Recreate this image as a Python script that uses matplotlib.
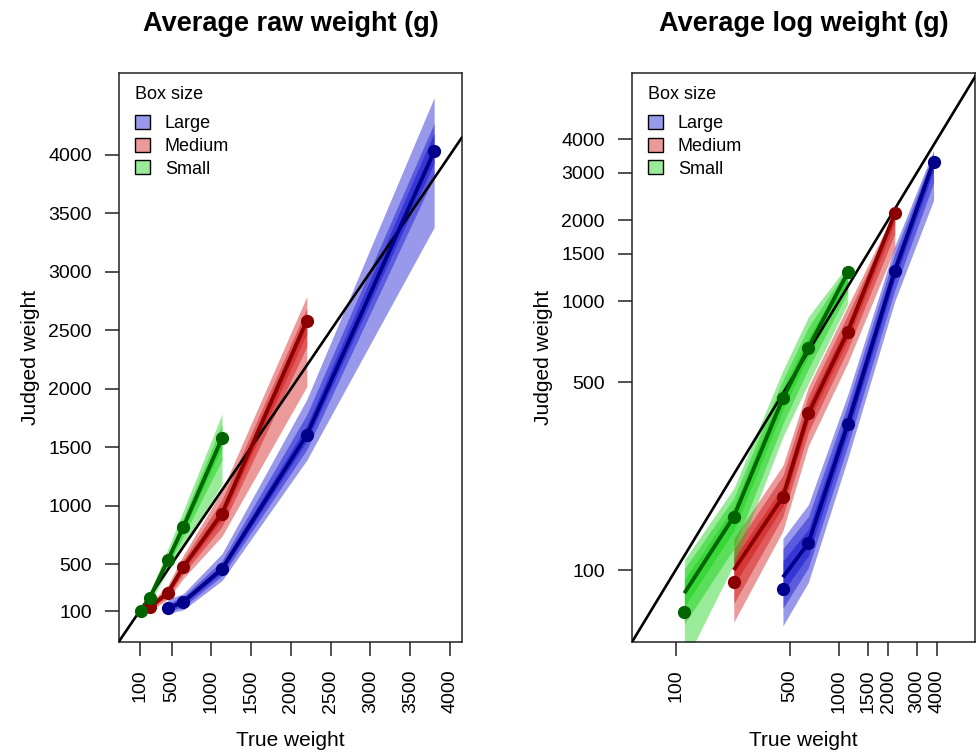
import matplotlib
matplotlib.use("Agg")
import matplotlib.pyplot as plt
from matplotlib.patches import Patch

plt.rcParams['font.family'] = ['Liberation Sans', 'DejaVu Sans']

# ---------------- data ----------------
series_names = ["Large", "Medium", "Small"]

x_large = [454, 650, 1134, 2200, 3800]
x_medium = [227, 454, 650, 1134, 2200]
x_small = [113, 227, 454, 650, 1134]

# Left panel: average raw weight
raw_large_pts = [123, 180, 459, 1606, 4029]
raw_large_lo = [[80, 110, 360, 1390, 3380], [95, 135, 400, 1480, 3815], [108, 155, 430, 1550, 3930]]
raw_large_hi = [[200, 250, 590, 1910, 4490], [165, 225, 530, 1780, 4270], [145, 205, 495, 1690, 4190]]

raw_medium_pts = [132, 257, 479, 933, 2581]
raw_medium_lo = [[100, 200, 380, 740, 2020], [112, 222, 420, 820, 2360], [122, 240, 450, 880, 2470]]
raw_medium_hi = [[165, 320, 580, 1130, 2790], [152, 295, 540, 1050, 2690], [142, 275, 510, 990, 2640]]

raw_small_pts = [100, 214, 536, 821, 1577]
raw_small_lo = [[82, 172, 440, 650, 1185], [90, 190, 485, 740, 1390], [95, 202, 510, 785, 1500]]
raw_small_hi = [[118, 255, 630, 960, 1785], [110, 235, 585, 900, 1700], [106, 225, 560, 860, 1640]]

# Right panel: average log weight
log_large_pts = [85, 126, 349, 1296, 3297]
log_large_line = [94, 126, 349, 1296, 3297]
log_large_lo = [[62, 90, 260, 1000, 2370], [72, 102, 290, 1100, 2750], [83, 113, 320, 1200, 3050]]
log_large_hi = [[131, 175, 450, 1600, 3640], [120, 158, 415, 1500, 3550], [108, 142, 385, 1400, 3450]]

log_medium_pts = [90, 187, 382, 769, 2118]
log_medium_line = [100, 187, 382, 769, 2118]
log_medium_lo = [[64, 140, 290, 590, 1570], [75, 158, 325, 660, 1780], [88, 172, 355, 715, 1950]]
log_medium_hi = [[131, 245, 480, 960, 2160], [120, 225, 445, 890, 2140], [110, 205, 415, 830, 2130]]

log_small_pts = [70, 158, 435, 670, 1278]
log_small_line = [82, 158, 435, 670, 1278]
log_small_lo = [[45, 105, 313, 494, 980], [63, 120, 350, 560, 1080], [73, 140, 395, 620, 1170]]
log_small_hi = [[109, 201, 553, 874, 1362], [101, 185, 510, 800, 1330], [92, 172, 475, 730, 1300]]

raw_ticks = [100, 500, 1000, 1500, 2000, 2500, 3000, 3500, 4000]
log_ticks = [100, 500, 1000, 1500, 2000, 3000, 4000]

# ---------------- style ----------------
band_cols = {"Large": (0, 0, 205 / 255), "Medium": (205 / 255, 0, 0), "Small": (0, 205 / 255, 0)}
dark_cols = {"Large": "#00008B", "Medium": "#8B0000", "Small": "#006400"}
legend_cols = {"Large": "#9999EB", "Medium": "#EB9999", "Small": "#99EB99"}

fig = plt.figure(figsize=(9.77, 7.53), dpi=100)
ax1 = fig.add_axes([119 / 977, 111 / 753, 343 / 977, 569 / 753])
ax2 = fig.add_axes([632 / 977, 111 / 753, 343 / 977, 569 / 753])

raw_data = {
    "Large": (x_large, raw_large_pts, raw_large_pts, raw_large_lo, raw_large_hi),
    "Medium": (x_medium, raw_medium_pts, raw_medium_pts, raw_medium_lo, raw_medium_hi),
    "Small": (x_small, raw_small_pts, raw_small_pts, raw_small_lo, raw_small_hi),
}
log_data = {
    "Large": (x_large, log_large_pts, log_large_line, log_large_lo, log_large_hi),
    "Medium": (x_medium, log_medium_pts, log_medium_line, log_medium_lo, log_medium_hi),
    "Small": (x_small, log_small_pts, log_small_line, log_small_lo, log_small_hi),
}


def draw_panel(ax, data):
    for name in series_names:
        xs, pts, line, los, his = data[name]
        for lo, hi in zip(los, his):
            ax.fill_between(xs, lo, hi, color=band_cols[name], alpha=0.4,
                            linewidth=0, zorder=2)
        ax.plot(xs, line, color=dark_cols[name], lw=2.8, zorder=4,
                solid_capstyle='butt')
        ax.plot(xs, pts, 'o', color=dark_cols[name], ms=8.5, zorder=5)
    ax.axline((100, 100), (1000, 1000), color='black', lw=1.9, zorder=3)


def style_axes(ax, ticks, title):
    ax.set_xticks(ticks)
    ax.set_yticks(ticks)
    ax.minorticks_off()
    ax.set_xticklabels([str(t) for t in ticks], rotation=90)
    ax.set_yticklabels([str(t) for t in ticks])
    ax.tick_params(axis='both', length=10, width=1.1, labelsize=14, pad=9.5,
                   color='#222222')
    for s in ax.spines.values():
        s.set_linewidth(1.1)
        s.set_color('#222222')
    ax.set_xlabel("True weight", fontsize=15, labelpad=13)
    ax.set_ylabel("Judged weight", fontsize=15, labelpad=6)
    ax.set_title(title, fontsize=19.5, fontweight='bold', pad=30)
    handles = [Patch(facecolor=legend_cols[n], edgecolor='black', linewidth=1.0, label=n)
               for n in series_names]
    leg = ax.legend(handles=handles, title="Box size", loc='upper left', frameon=False,
                    fontsize=13, title_fontsize=13, handlelength=0.8, handleheight=0.8,
                    handletextpad=0.85, labelspacing=0.3, borderaxespad=0.3,
                    bbox_to_anchor=(0.01, 1.0))
    leg._legend_box.align = "left"
    leg._legend_box.sep = 9


draw_panel(ax1, raw_data)
ax1.set_xlim(-160, 4150)
ax1.set_ylim(-165, 4700)
style_axes(ax1, raw_ticks, "Average raw weight (g)")

draw_panel(ax2, log_data)
ax2.set_xscale('log')
ax2.set_yscale('log')
ax2.set_xlim(54, 6820)
ax2.set_ylim(54, 7050)
style_axes(ax2, log_ticks, "Average log weight (g)")

fig.savefig("out.png", dpi=100)
